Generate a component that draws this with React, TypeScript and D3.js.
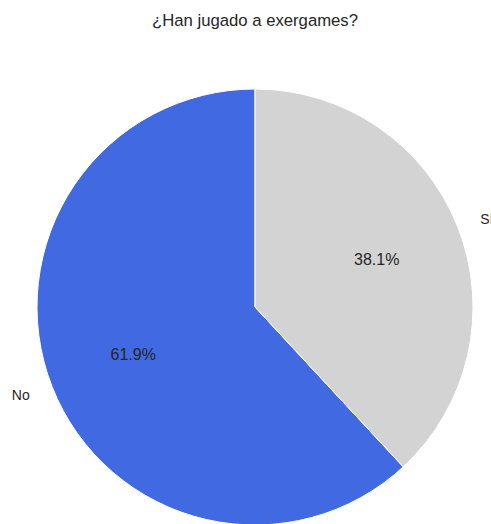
import React from "react";
import * as d3 from "d3";

const categories = ["No", "Sí"];
const values = [61.9, 38.1];
const colors = ["#4169E1", "#D3D3D3"];
const title = "¿Han jugado a exergames?";

const W = 491;
const H = 524;
const cx = 255;
const cy = 307;
const R = 218;

export default function App() {
  const total = d3.sum(values);
  // matplotlib-style: start at top (90deg), go counterclockwise
  const pie = d3
    .pie<number>()
    .sort(null)
    .startAngle(0)
    .endAngle(-2 * Math.PI)
    .value((d) => d);
  const arcs = pie(values);
  const arc = d3.arc<d3.PieArcDatum<number>>().innerRadius(0).outerRadius(R);
  const font = "'Liberation Sans', Arial, sans-serif";
  const textColor = "#262626";

  return (
    <svg
      width={W}
      height={H}
      style={{ position: "absolute", left: 0, top: 0, background: "#fff" }}
    >
      <text
        x={cx}
        y={26}
        textAnchor="middle"
        fontFamily={font}
        fontSize={16.7}
        fill={textColor}
      >
        {title}
      </text>
      <g transform={`translate(${cx},${cy})`}>
        {arcs.map((a, i) => (
          <path
            key={i}
            d={arc(a) || ""}
            fill={colors[i]}
            stroke="#fff"
            strokeWidth={1}
          />
        ))}
        {arcs.map((a, i) => {
          const mid = (a.startAngle + a.endAngle) / 2;
          const lx = Math.sin(mid) * R * 1.11;
          const ly = -Math.cos(mid) * R * 1.11;
          const px = Math.sin(mid) * R * 0.6;
          const py = -Math.cos(mid) * R * 0.6;
          return (
            <g key={"t" + i}>
              <text
                x={lx}
                y={ly}
                textAnchor={lx < 0 ? "end" : "start"}
                dominantBaseline="central"
                fontFamily={font}
                fontSize={14}
                fill={textColor}
              >
                {categories[i]}
              </text>
              <text
                x={px}
                y={py}
                textAnchor="middle"
                dominantBaseline="central"
                fontFamily={font}
                fontSize={16}
                fill={textColor}
              >
                {((values[i] / total) * 100).toFixed(1) + "%"}
              </text>
            </g>
          );
        })}
      </g>
    </svg>
  );
}
